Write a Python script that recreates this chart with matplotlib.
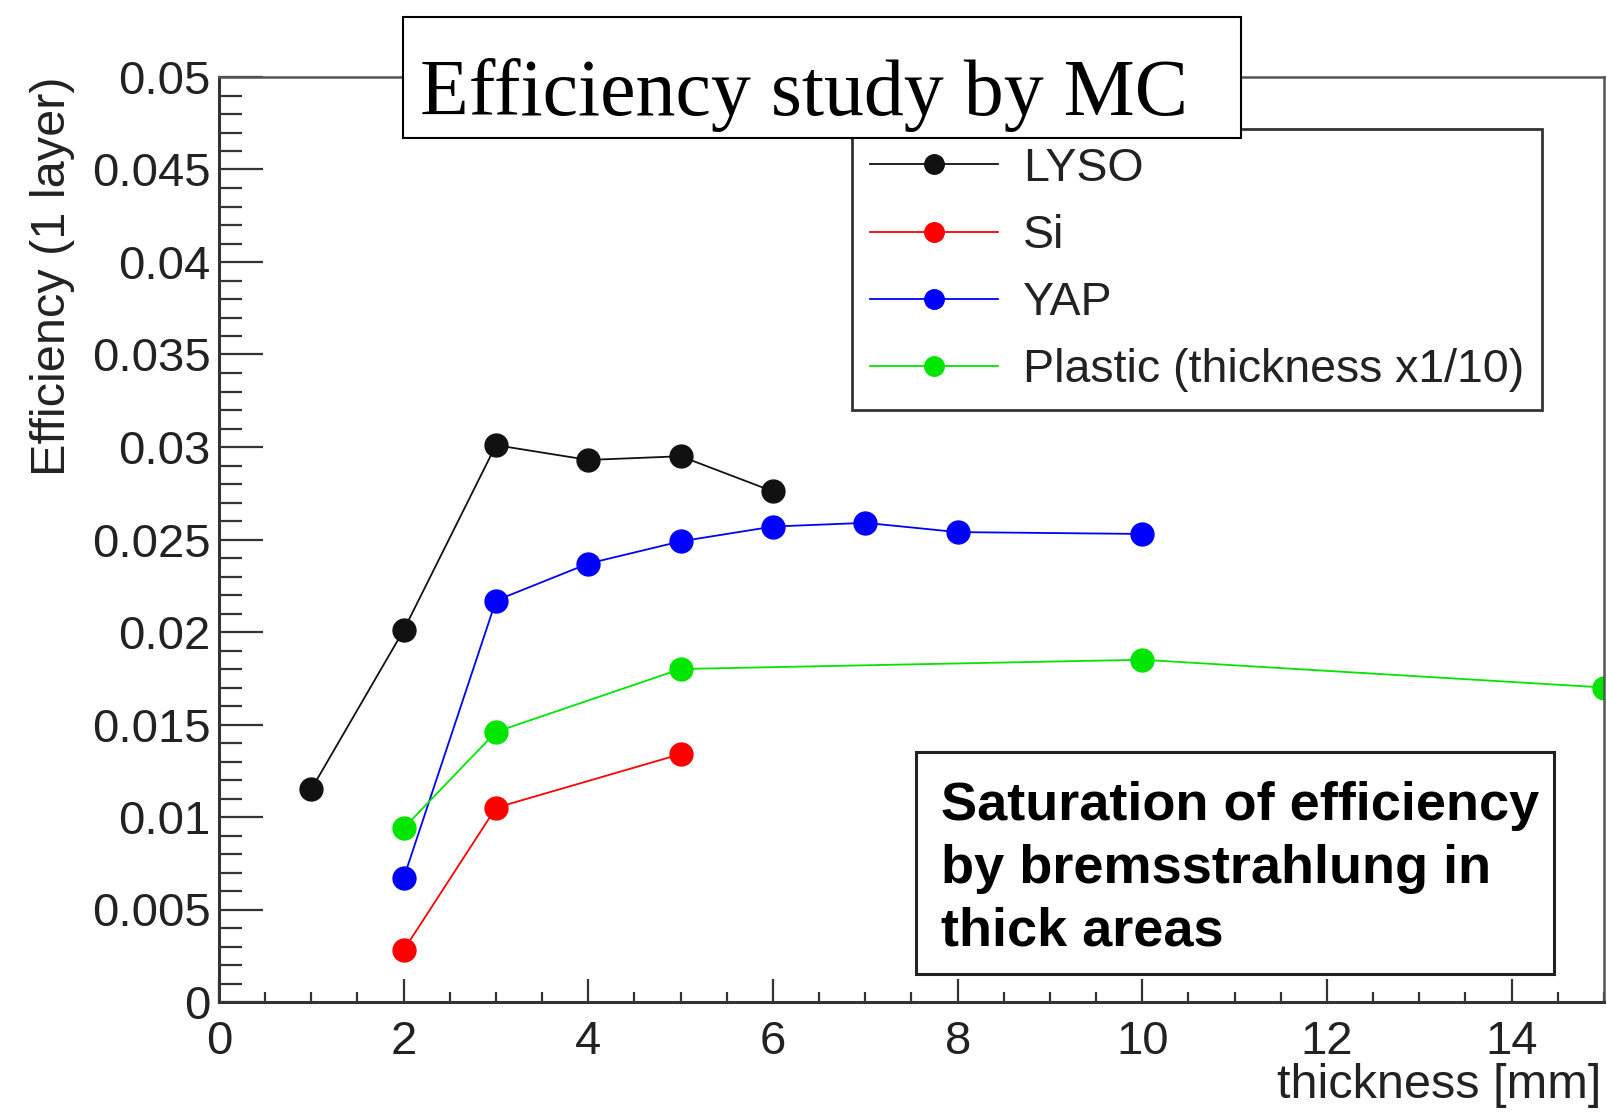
import matplotlib
matplotlib.use('Agg')
import matplotlib.pyplot as plt
from matplotlib.patches import Rectangle
from matplotlib.ticker import MultipleLocator, FuncFormatter

plt.rcParams['font.family'] = ['Liberation Sans', 'DejaVu Sans']

# values (thickness in mm, efficiency for 1 layer)
lyso_x = [1, 2, 3, 4, 5, 6]
lyso_y = [0.0115, 0.0201, 0.0301, 0.0293, 0.0295, 0.0276]
si_x = [2, 3, 5]
si_y = [0.0028, 0.0105, 0.0134]
yap_x = [2, 3, 4, 5, 6, 7, 8, 10]
yap_y = [0.0067, 0.0217, 0.0237, 0.0249, 0.0257, 0.0259, 0.0254, 0.0253]
plastic_x = [2, 3, 5, 10, 15]
plastic_y = [0.0094, 0.0146, 0.0180, 0.0185, 0.0170]

labels = ['LYSO', 'Si', 'YAP', 'Plastic (thickness x1/10)']
colors = ['#111111', '#ff0000', '#0000ff', '#00e600']

W, H = 1608, 1113
fig = plt.figure(figsize=(W / 100, H / 100), dpi=100)
ax = fig.add_axes([219 / W, 1 - 1002 / H, 1385 / W, 925 / H])

series = [(lyso_x, lyso_y), (si_x, si_y), (yap_x, yap_y), (plastic_x, plastic_y)]
for (xs, ys), lab, col in zip(series, labels, colors):
    ax.plot(xs, ys, '-o', color=col, lw=1.3, ms=16.5, mec=col, label=lab)

ax.set_xlim(0, 15)
ax.set_ylim(0, 0.05)

# ROOT-like axes
ax.xaxis.set_major_locator(MultipleLocator(2))
ax.xaxis.set_minor_locator(MultipleLocator(0.5))
ax.yaxis.set_major_locator(MultipleLocator(0.005))
ax.yaxis.set_minor_locator(MultipleLocator(0.001))
ax.yaxis.set_major_formatter(FuncFormatter(lambda v, p: '%g' % round(v, 4)))
ax.xaxis.set_major_formatter(FuncFormatter(lambda v, p: '%g' % v))

ax.tick_params(axis='both', which='both', direction='in', top=False, right=False,
               colors='#333333', labelcolor='#222222', width=1.6, labelsize=34)
ax.tick_params(axis='x', which='major', length=16.5, pad=13)
ax.tick_params(axis='x', which='minor', length=7)
ax.tick_params(axis='y', which='major', length=31.5, pad=6)
ax.tick_params(axis='y', which='minor', length=16.5)

for s in ['left', 'bottom']:
    ax.spines[s].set_linewidth(2.2)
    ax.spines[s].set_color('#333333')
for s in ['top', 'right']:
    ax.spines[s].set_linewidth(1.8)
    ax.spines[s].set_color('#555555')

ax.set_xlabel('thickness [mm]', fontsize=35, loc='right', color='#222222')
ax.xaxis.set_label_coords(0.998, -0.066)
ax.set_ylabel('Efficiency (1 layer)', fontsize=35, loc='top', color='#222222')
ax.yaxis.set_label_coords(-0.104, 1.0)

leg = ax.legend(loc='upper left', bbox_to_anchor=(852 / W, 1 - 129 / H),
                bbox_transform=fig.transFigure, borderaxespad=0, fontsize=33.5,
                handlelength=2.75, handletextpad=0.55, labelspacing=0.5,
                borderpad=0.38, markerscale=0.85, fancybox=False, framealpha=1)
leg.get_frame().set_edgecolor('#333333')
leg.get_frame().set_linewidth(2)
for t in leg.get_texts():
    t.set_color('#222222')

# title box on top of the frame
fig.patches.append(Rectangle((403 / W, 1 - 138 / H), 838 / W, 121 / H,
                             transform=fig.transFigure, facecolor='white',
                             edgecolor='black', lw=1.5, zorder=10))
fig.text(420 / W, 1 - 115 / H, 'Efficiency study by MC', fontsize=57.5,
         family='Liberation Serif', va='baseline', ha='left', zorder=11)

# comment box, lower right
fig.patches.append(Rectangle((916 / W, 1 - 974 / H), 638 / W, 222 / H,
                             transform=fig.transFigure, facecolor='white',
                             edgecolor='#222222', lw=2.2, zorder=10))
fig.text(941 / W, 1 - 781 / H,
         'Saturation of efficiency\nby bremsstrahlung in\nthick areas',
         fontsize=39, fontweight='bold', va='top', ha='left',
         linespacing=1.33, zorder=11)

fig.savefig('out.png', dpi=100)
